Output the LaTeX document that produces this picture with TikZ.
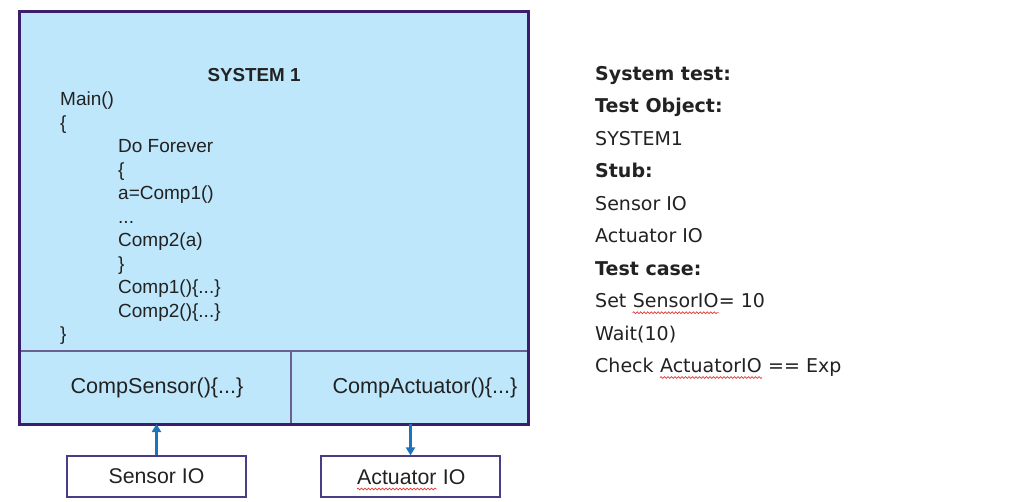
\documentclass[tikz,border=0pt]{standalone}
\usepackage{fontspec}
\setmainfont{Liberation Sans}
\newfontfamily\rfont{DejaVu Sans}
\usetikzlibrary{decorations.pathmorphing,arrows.meta}
\definecolor{boxblue}{HTML}{BFE7FB}
\definecolor{boxpurple}{HTML}{3B1F6E}
\definecolor{divpurple}{HTML}{6B6190}
\definecolor{iopurple}{HTML}{4B3C85}
\definecolor{arrblue}{HTML}{1C75BC}
\definecolor{txt}{HTML}{222222}
\definecolor{squigred}{HTML}{E03A3A}
\tikzset{
  sysfill/.style={fill=boxblue, minimum width=509pt, minimum height=412pt, inner sep=0pt, outer sep=0pt},
  sysborder/.style={draw=boxpurple, line width=3pt},
  divline/.style={draw=divpurple, line width=1.3pt},
  codeln/.style={anchor=base west, inner sep=0pt, text=txt, font=\fontsize{19}{23}\selectfont},
  comptxt/.style={anchor=base, inner sep=0pt, text=txt, font=\fontsize{21.6}{25}\selectfont},
  iobox/.style={draw=iopurple, line width=1.2pt, fill=white, minimum width=179pt, minimum height=41pt, inner sep=0pt, text=txt, font=\fontsize{21.3}{25}\selectfont},
  iotxt/.style={anchor=base west, inner sep=0pt, text=txt, font=\fontsize{21.3}{25}\selectfont},
  rtxt/.style={anchor=base west, inner sep=0pt, text=txt, font=\rfont\fontsize{19}{23}\selectfont},
  rbold/.style={rtxt, font=\rfont\bfseries\fontsize{19}{23}\selectfont},
  arr/.style={draw=arrblue, line width=2.5pt, -{Triangle[length=8pt,width=9pt]}},
  squig/.style={draw=squigred, line width=0.7pt, decorate, decoration={snake, amplitude=0.9pt, segment length=3.5pt}},
}
\begin{document}
\begin{tikzpicture}[x=1pt,y=-1pt]
\useasboundingbox[fill=white] (0,0) rectangle (1024,502);

% main system box
\node[sysfill] (sys) at (273.5,218) {};
\coordinate (divl) at (19,351);
\coordinate (divr) at (528,351);
\coordinate (divm) at (291,351);
\draw[divline] (divl) -- (divr);
\draw[divline] (divm) -- (divm |- sys.south);
\draw[sysborder] (sys.south west) rectangle (sys.north east);

% title and code
\node[anchor=base, inner sep=0pt, text=txt, font=\bfseries\fontsize{18.8}{22}\selectfont] (title) at (254,81.5) {SYSTEM 1};
\node[codeln] (c0) at (60,105.7) {Main()};
\node[codeln] (c1) at (60,129.2) {\{};
\node[codeln] (c2) at (118,152.7) {Do Forever};
\node[codeln] (c3) at (118,176.2) {\{};
\node[codeln] (c4) at (118,199.7) {a=Comp1()};
\node[codeln] (c5) at (118,223.2) {...};
\node[codeln] (c6) at (118,246.7) {Comp2(a)};
\node[codeln] (c7) at (118,270.2) {\}};
\node[codeln] (c8) at (118,293.7) {Comp1()\{...\}};
\node[codeln] (c9) at (118,317.2) {Comp2()\{...\}};
\node[codeln] (c10) at (60,340.7) {\}};

% compartments
\node[comptxt] (csens) at (157,393.3) {CompSensor()\{...\}};
\node[comptxt] (cact) at (425,393.3) {CompActuator()\{...\}};

% IO boxes
\node[iobox] (sio) at (156.5,476.5) {Sensor IO};
\node[iobox] (aio) at (410.5,476.5) {};
\node[iotxt] (aio1) at (357,484) {Actuator};
\node[iotxt] (aio2) at (aio1.base east) {\ IO};
\draw[squig] ([yshift=-5pt]aio1.base west) -- ([yshift=-5pt]aio1.base east);

% arrows
\draw[arr] (sio.north) -- (sio.north |- sys.south);
\draw[arr] (aio.north |- sys.south) -- (aio.north);

% right text
\node[rbold] (r0) at (595,80.5) {System test:};
\node[rbold] (r1) at (595,112.95) {Test Object:};
\node[rtxt] (r2) at (595,145.4) {SYSTEM1};
\node[rbold] (r3) at (595,177.85) {Stub:};
\node[rtxt] (r4) at (595,210.3) {Sensor IO};
\node[rtxt] (r5) at (595,242.75) {Actuator IO};
\node[rbold] (r6) at (595,275.2) {Test case:};
\node[rtxt] (r7a) at (595,307.65) {Set\ \kern0pt};
\node[rtxt] (r7b) at (r7a.base east) {SensorIO};
\node[rtxt] (r7c) at (r7b.base east) {= 10};
\node[rtxt] (r8) at (595,340.1) {Wait(10)};
\node[rtxt] (r9a) at (595,372.55) {Check\ \kern0pt};
\node[rtxt] (r9b) at (r9a.base east) {ActuatorIO};
\node[rtxt] (r9c) at (r9b.base east) {\ == Exp};
\draw[squig] ([yshift=-5pt]r7b.base west) -- ([yshift=-5pt]r7b.base east);
\draw[squig] ([yshift=-5pt]r9b.base west) -- ([yshift=-5pt]r9b.base east);
\end{tikzpicture}
\end{document}
